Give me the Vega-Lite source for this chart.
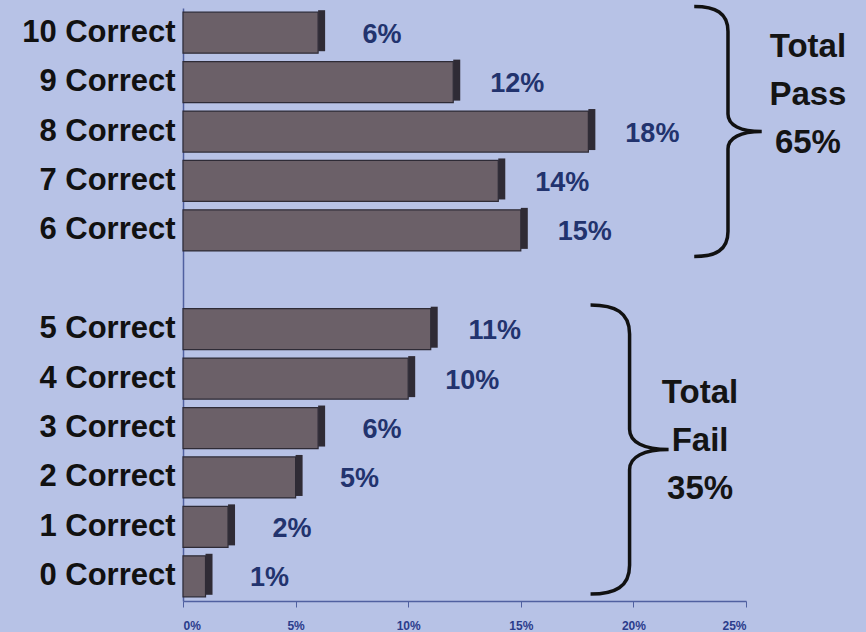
{
  "$schema": "https://vega.github.io/schema/vega-lite/v6.json",
  "autosize": {"type": "none"},
  "width": 563,
  "height": 593,
  "padding": {"left": 183, "top": 8, "right": 120, "bottom": 31},
  "background": "#b7c2e6",
  "config": {
    "view": {"stroke": null},
    "font": "Liberation Sans"
  },
  "datasets": {
    "scores": [
      {"score": "10 Correct", "pct": 0.06},
      {"score": "9 Correct", "pct": 0.12},
      {"score": "8 Correct", "pct": 0.18},
      {"score": "7 Correct", "pct": 0.14},
      {"score": "6 Correct", "pct": 0.15},
      {"score": "5 Correct", "pct": 0.11},
      {"score": "4 Correct", "pct": 0.10},
      {"score": "3 Correct", "pct": 0.06},
      {"score": "2 Correct", "pct": 0.05},
      {"score": "1 Correct", "pct": 0.02},
      {"score": "0 Correct", "pct": 0.01}
    ],
    "groups": [
      {"group": "pass", "text": "Total\nPass\n65%", "braceAt": 0.242, "textAt": 0.2775, "row": "8 Correct", "textRow": "10 Correct"},
      {"group": "fail", "text": "Total\nFail\n35%", "braceAt": 0.1983, "textAt": 0.2296, "row": "3 Correct", "textRow": "4 Correct"}
    ]
  },
  "encoding": {
    "y": {
      "field": "score",
      "type": "nominal",
      "scale": {
        "domain": ["10 Correct", "9 Correct", "8 Correct", "7 Correct", "6 Correct", " ", "5 Correct", "4 Correct", "3 Correct", "2 Correct", "1 Correct", "0 Correct"],
        "paddingInner": 0.17,
        "paddingOuter": 0.085
      },
      "axis": {
        "title": null,
        "ticks": false,
        "labelPadding": 8,
        "labelFontSize": 31,
        "labelFontWeight": "bold",
        "labelColor": "#111111",
        "labelFont": "Liberation Sans",
        "domainColor": "#5060a0",
        "domainWidth": 1.5
      }
    }
  },
  "layer": [
    {
      "data": {"name": "scores"},
      "mark": {"type": "bar", "color": "#6b6068", "stroke": "#2e2b36", "strokeWidth": 1.2},
      "encoding": {
        "x": {
          "field": "pct",
          "type": "quantitative",
          "scale": {"domain": [0, 0.25], "nice": false},
          "axis": {
            "title": null,
            "values": [0, 0.05, 0.1, 0.15, 0.2, 0.25],
            "format": ".0%",
            "grid": false,
            "labelFontSize": 12,
            "labelFontWeight": "bold",
            "labelColor": "#2b3c8c",
            "labelFont": "Liberation Sans",
            "domainColor": "#5060a0",
            "domainWidth": 1.5,
            "tickColor": "#5060a0",
            "tickSize": 6,
            "labelPadding": 13
          }
        }
      }
    },
    {
      "data": {"name": "scores"},
      "mark": {"type": "bar", "color": "#2f2b35", "x2Offset": 7, "yOffset": -2},
      "encoding": {
        "x": {"field": "pct", "type": "quantitative"},
        "x2": {"field": "pct"}
      }
    },
    {
      "data": {"name": "scores"},
      "mark": {"type": "text", "dx": 64, "dy": 2, "align": "center", "baseline": "middle", "fontSize": 27, "fontWeight": "bold", "color": "#22336e", "font": "Liberation Sans"},
      "encoding": {
        "x": {"field": "pct", "type": "quantitative"},
        "text": {"field": "pct", "type": "quantitative", "format": ".0%"}
      }
    },
    {
      "data": {"name": "groups"},
      "transform": [{"filter": "datum.group === 'pass'"}],
      "mark": {"type": "point", "shape": "M-0.27,-1 C-0.1,-1 0,-0.95 0,-0.8 L0,-0.14 C0,-0.05 0.1,0 0.27,0 C0.1,0 0,0.05 0,0.14 L0,0.8 C0,0.95 -0.1,1 -0.27,1", "filled": false, "stroke": "#111111", "strokeWidth": 3.5, "size": 62500, "opacity": 1},
      "encoding": {
        "x": {"field": "braceAt", "type": "quantitative"},
        "y": {"field": "row", "type": "nominal"}
      }
    },
    {
      "data": {"name": "groups"},
      "transform": [{"filter": "datum.group === 'fail'"}],
      "mark": {"type": "point", "shape": "M-0.27,-1 C-0.1,-1 0,-0.95 0,-0.8 L0,-0.14 C0,-0.05 0.1,0 0.27,0 C0.1,0 0,0.05 0,0.14 L0,0.8 C0,0.95 -0.1,1 -0.27,1", "filled": false, "stroke": "#111111", "strokeWidth": 3.5, "size": 83521, "opacity": 1, "yOffset": 21.5},
      "encoding": {
        "x": {"field": "braceAt", "type": "quantitative"},
        "y": {"field": "row", "type": "nominal"}
      }
    },
    {
      "data": {"name": "groups"},
      "mark": {"type": "text", "align": "center", "baseline": "middle", "fontSize": 33, "fontWeight": "bold", "color": "#141414", "font": "Liberation Sans", "lineBreak": "\n", "lineHeight": 48, "dy": 14},
      "encoding": {
        "x": {"field": "textAt", "type": "quantitative"},
        "y": {"field": "textRow", "type": "nominal"},
        "text": {"field": "text", "type": "nominal"}
      }
    }
  ]
}
